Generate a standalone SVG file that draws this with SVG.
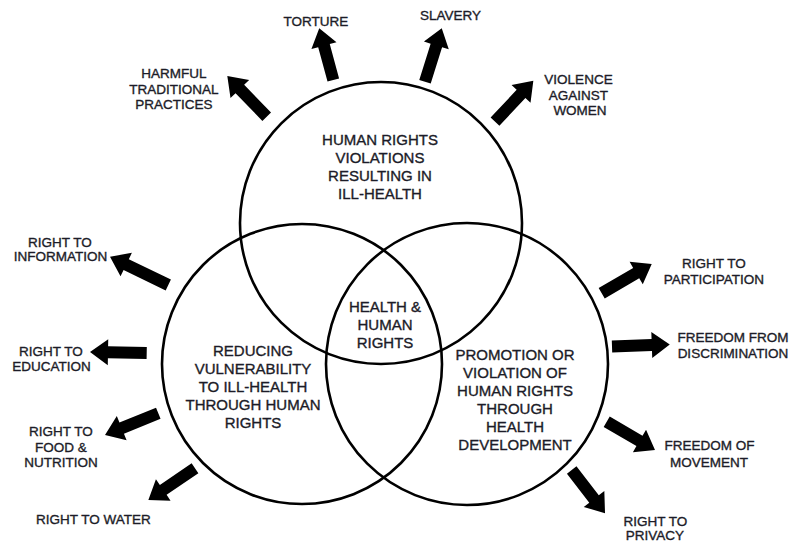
<svg xmlns="http://www.w3.org/2000/svg" width="790" height="542" viewBox="0 0 790 542">
<style>
  .c { fill: none; stroke: #000; stroke-width: 2.6; }
  .a { fill: #000; }
  .t { font-family: "Liberation Sans", Arial, sans-serif; fill: #1c1c28; stroke: #1c1c28; stroke-width: 0.35; text-anchor: middle; }
  .m { font-size: 15px; }
  .o { font-size: 13.5px; }
</style>
<rect width="790" height="542" fill="#fff"/>
<g id="circles">
  <g id="top-circle"><circle class="c" cx="381" cy="223" r="141"/></g>
  <g id="left-circle"><circle class="c" cx="302" cy="364" r="140"/></g>
  <g id="right-circle"><circle class="c" cx="467" cy="364" r="141"/></g>
</g>
<g id="connectors">
  <path class="a" transform="translate(266.7,116.7) rotate(-134.1)" d="M0,-6 L38.6,-6 L38.6,-13 L56.6,0 L38.6,13 L38.6,6 L0,6 Z"/>
  <path class="a" transform="translate(333.3,80) rotate(-105.2)" d="M0,-6 L35.6,-6 L35.6,-13 L53.6,0 L35.6,13 L35.6,6 L0,6 Z"/>
  <path class="a" transform="translate(425,81.7) rotate(-72.6)" d="M0,-6 L38,-6 L38,-13 L56,0 L38,13 L38,6 L0,6 Z"/>
  <path class="a" transform="translate(495,121.7) rotate(-46.9)" d="M0,-6 L38.1,-6 L38.1,-13 L56.1,0 L38.1,13 L38.1,6 L0,6 Z"/>
  <path class="a" transform="translate(168.3,285) rotate(-154.1)" d="M0,-6 L46.8,-6 L46.8,-13 L64.8,0 L46.8,13 L46.8,6 L0,6 Z"/>
  <path class="a" transform="translate(146.7,353) rotate(-179)" d="M0,-6 L38.7,-6 L38.7,-13 L56.7,0 L38.7,13 L38.7,6 L0,6 Z"/>
  <path class="a" transform="translate(158.3,413.3) rotate(157.9)" d="M0,-6 L39.5,-6 L39.5,-13 L57.5,0 L39.5,13 L39.5,6 L0,6 Z"/>
  <path class="a" transform="translate(195,468.3) rotate(145.8)" d="M0,-6 L38.4,-6 L38.4,-13 L56.4,0 L38.4,13 L38.4,6 L0,6 Z"/>
  <path class="a" transform="translate(601.7,293.3) rotate(-30.4)" d="M0,-6 L40,-6 L40,-13 L58,0 L40,13 L40,6 L0,6 Z"/>
  <path class="a" transform="translate(612,346.5) rotate(-2)" d="M0,-6 L39.8,-6 L39.8,-13 L57.8,0 L39.8,13 L39.8,6 L0,6 Z"/>
  <path class="a" transform="translate(606.7,421.7) rotate(30.4)" d="M0,-6 L38,-6 L38,-13 L56,0 L38,13 L38,6 L0,6 Z"/>
  <path class="a" transform="translate(571.7,470) rotate(52.4)" d="M0,-6 L36.6,-6 L36.6,-13 L54.6,0 L36.6,13 L36.6,6 L0,6 Z"/>
</g>
<g id="top-label"><text class="t m" x="380" y="145">HUMAN RIGHTS<tspan x="380" y="163">VIOLATIONS</tspan><tspan x="380" y="181">RESULTING IN</tspan><tspan x="380" y="199">ILL-HEALTH</tspan></text></g>
<g id="center-label"><text class="t m" x="385" y="312">HEALTH &amp;<tspan x="385" y="330">HUMAN</tspan><tspan x="385" y="348">RIGHTS</tspan></text></g>
<g id="left-label"><text class="t m" x="253" y="356">REDUCING<tspan x="253" y="374">VULNERABILITY</tspan><tspan x="253" y="392">TO ILL-HEALTH</tspan><tspan x="253" y="410">THROUGH HUMAN</tspan><tspan x="253" y="428">RIGHTS</tspan></text></g>
<g id="right-label"><text class="t m" x="515" y="359.5">PROMOTION OR<tspan x="515" y="377.5">VIOLATION OF</tspan><tspan x="515" y="395.5">HUMAN RIGHTS</tspan><tspan x="515" y="413.5">THROUGH</tspan><tspan x="515" y="431.5">HEALTH</tspan><tspan x="515" y="449.5">DEVELOPMENT</tspan></text></g>
<g id="harmful"><text class="t o" x="174" y="78">HARMFUL<tspan x="174" y="93.5">TRADITIONAL</tspan><tspan x="174" y="109">PRACTICES</tspan></text></g>
<g id="torture"><text class="t o" x="316" y="26">TORTURE</text></g>
<g id="slavery"><text class="t o" x="450.5" y="20">SLAVERY</text></g>
<g id="violence"><text class="t o" x="578.5" y="84">VIOLENCE<tspan x="578.5" y="99.5">AGAINST</tspan><tspan x="580" y="115">WOMEN</tspan></text></g>
<g id="information"><text class="t o" x="60" y="247">RIGHT TO<tspan x="60.5" y="260.5">INFORMATION</tspan></text></g>
<g id="education"><text class="t o" x="51" y="356">RIGHT TO<tspan x="51.5" y="371">EDUCATION</tspan></text></g>
<g id="food"><text class="t o" x="61" y="436">RIGHT TO<tspan x="61" y="451.5">FOOD &amp;</tspan><tspan x="61" y="467">NUTRITION</tspan></text></g>
<g id="water"><text class="t o" x="93.3" y="524">RIGHT TO WATER</text></g>
<g id="participation"><text class="t o" x="714" y="268">RIGHT TO<tspan x="714" y="283.5">PARTICIPATION</tspan></text></g>
<g id="discrimination"><text class="t o" x="733" y="342">FREEDOM FROM<tspan x="733" y="358">DISCRIMINATION</tspan></text></g>
<g id="movement"><text class="t o" x="709.5" y="450">FREEDOM OF<tspan x="709" y="467">MOVEMENT</tspan></text></g>
<g id="privacy"><text class="t o" x="655.5" y="526">RIGHT TO<tspan x="655" y="539.5">PRIVACY</tspan></text></g>
</svg>
